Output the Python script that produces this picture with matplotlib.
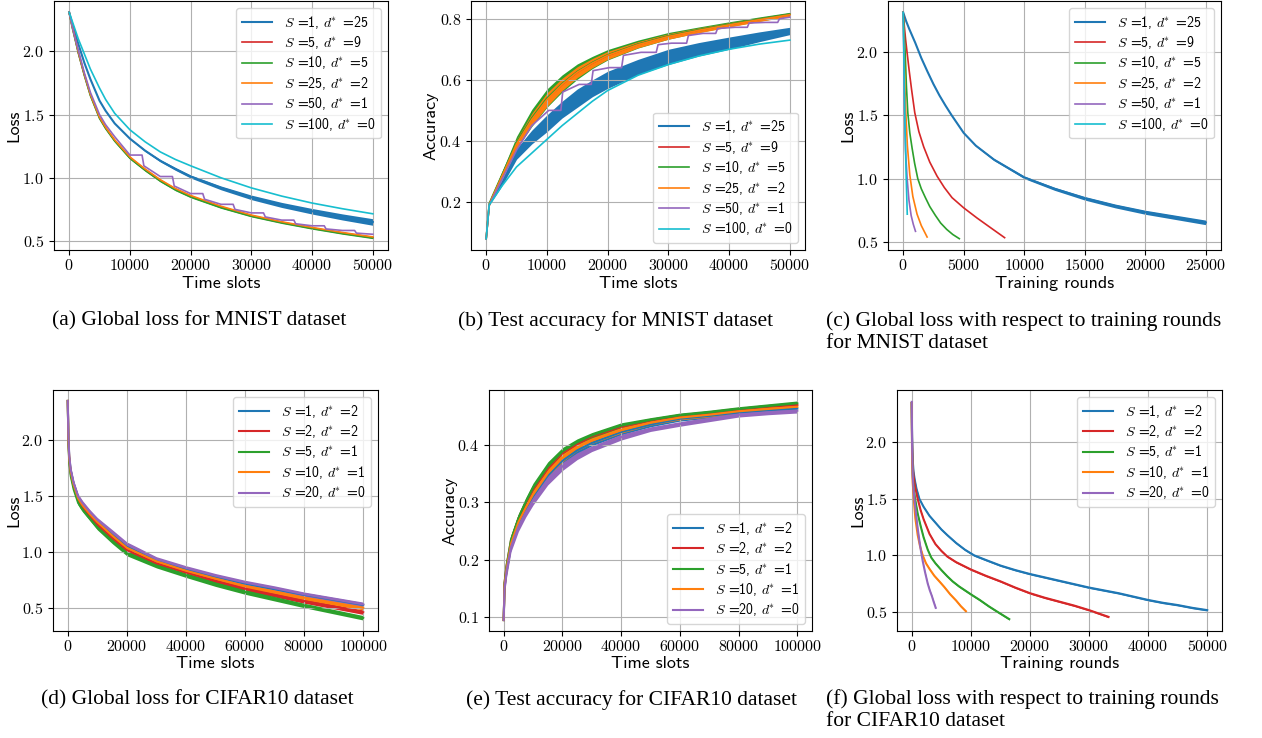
"""
Six-panel convergence figure: MNIST (top row) and CIFAR10 (bottom row)
loss / accuracy versus time slots and loss versus training rounds.
"""
import matplotlib
matplotlib.use("Agg")
import matplotlib.pyplot as plt
import matplotlib.ticker as mticker

plt.rcParams["font.family"] = "cmr10"
plt.rcParams["mathtext.fontset"] = "cm"
plt.rcParams["axes.formatter.use_mathtext"] = True
plt.rcParams["axes.unicode_minus"] = False

BLUE = "#1f77b4"
RED = "#d62728"
GREEN = "#2ca02c"
ORANGE = "#ff7f0e"
PURPLE = "#9467bd"
CYAN = "#17becf"

mnist_labels = [r"$S$ =1, $d^{\!\!*}$ =25", r"$S$ =5, $d^{\!\!*}$ =9", r"$S$ =10, $d^{\!\!*}$ =5",
                r"$S$ =25, $d^{\!\!*}$ =2", r"$S$ =50, $d^{\!\!*}$ =1", r"$S$ =100, $d^{\!\!*}$ =0"]
cifar_labels = [r"$S$ =1, $d^{\!\!*}$ =2", r"$S$ =2, $d^{\!\!*}$ =2", r"$S$ =5, $d^{\!\!*}$ =1",
                r"$S$ =10, $d^{\!\!*}$ =1", r"$S$ =20, $d^{\!\!*}$ =0"]

# ---------------- (a) MNIST loss vs time slots ----------------
a_slots = [0, 500, 1000, 1500, 2500, 3500, 5000, 6000, 7500, 10000, 12500, 15000,
           17500, 20000, 25000, 30000, 35000, 40000, 45000, 50000]
a_s1 = [2.31, 2.22, 2.14, 2.06, 1.91, 1.78, 1.61, 1.53, 1.43, 1.31, 1.215, 1.135,
        1.07, 1.01, 0.92, 0.845, 0.785, 0.735, 0.69, 0.65]
a_s1_spread = [0, 0, 0.001, 0.001, 0.002, 0.002, 0.003, 0.003, 0.004, 0.005, 0.007,
               0.009, 0.011, 0.012, 0.015, 0.018, 0.02, 0.022, 0.024, 0.026]
a_s5 = [2.31, 2.20, 2.10, 1.99, 1.815, 1.655, 1.475, 1.395, 1.295, 1.16, 1.065, 0.98,
        0.91, 0.855, 0.77, 0.70, 0.648, 0.603, 0.563, 0.528]
a_s10 = [2.31, 2.19, 2.09, 1.99, 1.81, 1.65, 1.47, 1.39, 1.29, 1.155, 1.06, 0.975,
         0.905, 0.85, 0.765, 0.697, 0.645, 0.60, 0.56, 0.525]
a_s10_spread = [0, 0, 0, 0, 0.002, 0.003, 0.005, 0.006, 0.007, 0.008, 0.008, 0.008,
                0.008, 0.008, 0.007, 0.007, 0.007, 0.007, 0.007, 0.007]
a_s25 = [2.31, 2.20, 2.10, 2.00, 1.82, 1.66, 1.48, 1.40, 1.30, 1.165, 1.07, 0.985,
         0.915, 0.86, 0.775, 0.705, 0.652, 0.607, 0.567, 0.532]
a_s100 = [2.31, 2.24, 2.17, 2.10, 1.98, 1.86, 1.71, 1.62, 1.51, 1.38, 1.285, 1.205,
          1.145, 1.095, 1.00, 0.92, 0.855, 0.80, 0.755, 0.715]
a_s50_slots = [0, 500, 1000, 1500, 2500, 3500, 5000, 6000, 7500, 10000, 12000, 12300,
               15000, 17000, 17300, 20000, 22000, 22300, 25000, 27000, 27300, 30000,
               32000, 32300, 35000, 37000, 37300, 40000, 42000, 42300, 45000, 47000,
               47300, 50000]
a_s50 = [2.31, 2.20, 2.10, 2.01, 1.83, 1.675, 1.50, 1.42, 1.325, 1.18, 1.18, 1.095,
         1.01, 1.01, 0.935, 0.875, 0.875, 0.83, 0.79, 0.79, 0.75, 0.722, 0.722, 0.69,
         0.665, 0.665, 0.636, 0.62, 0.62, 0.595, 0.583, 0.583, 0.562, 0.553]

# ---------------- (b) MNIST accuracy vs time slots ----------------
b_slots = [0, 500, 1000, 2500, 5000, 7500, 10000, 12500, 15000, 17500, 20000, 25000,
           30000, 35000, 40000, 45000, 50000]
b_s1_lo = [0.08, 0.19, 0.205, 0.25, 0.34, 0.39, 0.43, 0.475, 0.51, 0.545, 0.572, 0.617,
           0.65, 0.678, 0.70, 0.725, 0.748]
b_s1_hi = [0.08, 0.20, 0.215, 0.27, 0.375, 0.435, 0.485, 0.53, 0.57, 0.60, 0.628, 0.667,
           0.70, 0.722, 0.74, 0.757, 0.772]
b_s5 = [0.08, 0.19, 0.215, 0.282, 0.392, 0.472, 0.537, 0.585, 0.625, 0.655, 0.68, 0.716,
        0.743, 0.763, 0.781, 0.798, 0.814]
b_s10 = [0.08, 0.195, 0.218, 0.285, 0.395, 0.475, 0.54, 0.588, 0.627, 0.657, 0.682,
         0.717, 0.744, 0.764, 0.782, 0.799, 0.815]
b_s10_spread = [0, 0.005, 0.005, 0.01, 0.02, 0.028, 0.03, 0.028, 0.025, 0.02, 0.017,
                0.013, 0.011, 0.009, 0.008, 0.007, 0.006]
b_s25 = [0.08, 0.19, 0.215, 0.28, 0.39, 0.47, 0.535, 0.585, 0.625, 0.655, 0.68, 0.715,
         0.742, 0.762, 0.78, 0.797, 0.813]
b_s25_spread = [0, 0.004, 0.004, 0.008, 0.015, 0.02, 0.022, 0.02, 0.018, 0.015, 0.013,
                0.01, 0.009, 0.008, 0.007, 0.006, 0.005]
b_s100 = [0.08, 0.19, 0.205, 0.25, 0.315, 0.36, 0.405, 0.45, 0.49, 0.53, 0.565, 0.615,
          0.65, 0.678, 0.70, 0.717, 0.73]
b_s50_slots = [0, 500, 1000, 2500, 5000, 7500, 10300, 12300, 12600, 15300, 17300, 17600,
               20300, 22300, 22600, 25500, 28000, 28300, 30500, 33000, 33300, 35700,
               37800, 38100, 41000, 43000, 43300, 46000, 48000, 48300, 50000]
b_s50 = [0.08, 0.19, 0.21, 0.27, 0.37, 0.45, 0.50, 0.50, 0.56, 0.585, 0.585, 0.63,
         0.64, 0.64, 0.68, 0.69, 0.69, 0.715, 0.72, 0.72, 0.745, 0.752, 0.752, 0.768,
         0.772, 0.772, 0.786, 0.788, 0.788, 0.80, 0.805]

# ---------------- (c) MNIST loss vs training rounds ----------------
c_s1_rounds = [0, 250, 500, 1000, 1500, 2000, 2500, 3000, 3500, 4000, 5000, 6000, 7500,
               10000, 12500, 15000, 17500, 20000, 22500, 25000]
c_s1 = [2.31, 2.24, 2.18, 2.07, 1.95, 1.845, 1.745, 1.655, 1.575, 1.50, 1.36, 1.26,
        1.15, 1.01, 0.92, 0.845, 0.785, 0.735, 0.695, 0.655]
c_s1_spread = [0, 0, 0.001, 0.001, 0.002, 0.002, 0.003, 0.003, 0.004, 0.004, 0.005,
               0.006, 0.008, 0.01, 0.012, 0.014, 0.015, 0.016, 0.017, 0.018]
c_s5_rounds = [0, 100, 200, 330, 500, 700, 960, 1300, 1700, 2200, 2800, 3400, 4040,
               5000, 6100, 7200, 8380]
c_s5 = [2.31, 2.20, 2.10, 1.99, 1.85, 1.70, 1.52, 1.37, 1.25, 1.13, 1.02, 0.93, 0.85,
        0.77, 0.69, 0.615, 0.535]
c_s10_rounds = [0, 165, 270, 385, 550, 740, 950, 1209, 1500, 1840, 2200, 2665, 3100,
                3600, 4100, 4640]
c_s10 = [2.31, 2.0, 1.73, 1.52, 1.36, 1.24, 1.12, 1.0, 0.92, 0.85, 0.78, 0.71, 0.65,
         0.60, 0.56, 0.527]
c_s25_rounds = [0, 80, 140, 220, 350, 550, 800, 1150, 1500, 1980]
c_s25 = [2.31, 2.0, 1.75, 1.52, 1.26, 1.03, 0.86, 0.72, 0.63, 0.54]
c_s50_rounds = [0, 50, 110, 200, 330, 480, 660, 840, 1020]
c_s50 = [2.31, 2.0, 1.52, 1.22, 1.0, 0.83, 0.71, 0.64, 0.585]
c_s100_rounds = [0, 60, 137, 250, 340]
c_s100 = [2.31, 2.0, 1.5, 1.02, 0.72]

# ---------------- (d) CIFAR10 loss vs time slots ----------------
d_slots = [0, 200, 500, 1000, 2000, 3500, 5000, 7500, 10000, 15000, 20000, 30000,
           40000, 50000, 60000, 70000, 80000, 90000, 100000]
d_s1 = [2.35, 2.03, 1.85, 1.73, 1.61, 1.49, 1.43, 1.35, 1.28, 1.16, 1.05, 0.93, 0.85,
        0.78, 0.72, 0.67, 0.62, 0.575, 0.53]
d_s2 = [2.35, 2.0, 1.82, 1.70, 1.58, 1.46, 1.40, 1.32, 1.25, 1.13, 1.02, 0.90, 0.82,
        0.745, 0.675, 0.62, 0.565, 0.515, 0.465]
d_s5 = [2.35, 1.98, 1.80, 1.68, 1.56, 1.44, 1.38, 1.30, 1.22, 1.10, 0.99, 0.88, 0.795,
        0.715, 0.645, 0.585, 0.525, 0.47, 0.415]
d_s10 = [2.35, 2.02, 1.84, 1.72, 1.60, 1.48, 1.42, 1.34, 1.27, 1.15, 1.04, 0.92, 0.835,
         0.765, 0.70, 0.65, 0.595, 0.55, 0.505]
d_s20 = [2.35, 2.05, 1.86, 1.74, 1.62, 1.50, 1.44, 1.36, 1.29, 1.18, 1.07, 0.94, 0.86,
         0.79, 0.73, 0.68, 0.625, 0.58, 0.535]
d_spread = [0, 0.01, 0.015, 0.02, 0.02, 0.02, 0.02, 0.02, 0.02, 0.022, 0.022, 0.02,
            0.02, 0.02, 0.02, 0.02, 0.02, 0.02, 0.02]

# ---------------- (e) CIFAR10 accuracy vs time slots ----------------
e_slots = [0, 300, 1000, 2500, 5000, 7500, 10000, 15000, 20000, 25000, 30000, 40000,
           50000, 60000, 70000, 80000, 90000, 100000]
e_s1 = [0.095, 0.155, 0.185, 0.226, 0.262, 0.287, 0.31, 0.346, 0.372, 0.39, 0.403,
        0.422, 0.435, 0.445, 0.45, 0.456, 0.46, 0.463]
e_s2 = [0.095, 0.16, 0.19, 0.234, 0.271, 0.298, 0.322, 0.358, 0.385, 0.401, 0.414,
        0.431, 0.442, 0.45, 0.455, 0.461, 0.466, 0.469]
e_s5 = [0.095, 0.16, 0.19, 0.235, 0.272, 0.30, 0.325, 0.362, 0.388, 0.404, 0.416,
        0.433, 0.443, 0.451, 0.456, 0.462, 0.467, 0.472]
e_s10 = [0.095, 0.155, 0.185, 0.228, 0.265, 0.29, 0.313, 0.35, 0.377, 0.395, 0.407,
         0.425, 0.438, 0.447, 0.452, 0.458, 0.462, 0.466]
e_s20 = [0.095, 0.15, 0.18, 0.222, 0.257, 0.282, 0.303, 0.338, 0.362, 0.38, 0.393,
         0.413, 0.427, 0.436, 0.444, 0.452, 0.456, 0.459]
e_spread = [0, 0.01, 0.01, 0.008, 0.008, 0.008, 0.008, 0.008, 0.007, 0.006, 0.005,
            0.005, 0.004, 0.004, 0.004, 0.004, 0.004, 0.004]

# ---------------- (f) CIFAR10 loss vs training rounds ----------------
f_s1_rounds = [0, 50, 150, 300, 500, 800, 1290, 2000, 3000, 4000, 5000, 6000, 7500,
               9000, 10560, 12500, 15000, 17500, 20000, 22500, 25000, 27500, 30000,
               32500, 35000, 37500, 40000, 42500, 45000, 47500, 50000]
f_s1 = [2.35, 2.05, 1.85, 1.74, 1.67, 1.59, 1.50, 1.43, 1.35, 1.29, 1.23, 1.18, 1.11,
        1.05, 1.0, 0.96, 0.91, 0.87, 0.835, 0.805, 0.775, 0.745, 0.715, 0.69, 0.665,
        0.635, 0.605, 0.58, 0.56, 0.535, 0.515]
f_s2_rounds = [0, 50, 150, 300, 600, 1000, 1500, 2000, 3000, 4000, 5000, 6000, 7500,
               10000, 12500, 15000, 17500, 20000, 22500, 25000, 27500, 30000, 33300]
f_s2 = [2.35, 2.0, 1.80, 1.70, 1.60, 1.50, 1.40, 1.32, 1.19, 1.10, 1.04, 0.99, 0.94,
        0.875, 0.82, 0.77, 0.715, 0.665, 0.625, 0.59, 0.555, 0.515, 0.455]
f_s5_rounds = [0, 50, 150, 300, 560, 1000, 1500, 2000, 2700, 3300, 4000, 5000, 6000,
               6900, 8000, 9000, 10000, 11500, 13000, 14500, 16500]
f_s5 = [2.35, 1.95, 1.72, 1.60, 1.50, 1.37, 1.26, 1.16, 1.05, 0.98, 0.93, 0.87, 0.815,
        0.77, 0.725, 0.69, 0.655, 0.605, 0.55, 0.50, 0.435]
f_s10_rounds = [0, 50, 150, 340, 600, 1000, 1400, 1850, 2400, 3000, 3800, 4660, 5500,
                6500, 7500, 8300, 9160]
f_s10 = [2.35, 1.85, 1.65, 1.50, 1.33, 1.18, 1.08, 1.0, 0.93, 0.88, 0.82, 0.77, 0.72,
         0.655, 0.60, 0.55, 0.505]
f_s20_rounds = [0, 60, 170, 300, 450, 730, 1000, 1290, 1550, 1850, 2250, 2700, 3050,
                3400, 3700, 4050]
f_s20 = [2.36, 1.95, 1.70, 1.58, 1.50, 1.36, 1.24, 1.13, 1.04, 0.95, 0.85, 0.75, 0.69,
         0.64, 0.59, 0.535]
f_spread = 0.008

W, H = 1262, 738
fig = plt.figure(figsize=(W / 100, H / 100), dpi=100)


def make_ax(left, top, right, bottom):
    ax = fig.add_axes([left / W, 1 - bottom / H, (right - left) / W, (bottom - top) / H])
    ax.grid(True, color="#b0b0b0", linewidth=0.8)
    ax.tick_params(labelsize=11.5)
    ax.tick_params(axis="x", pad=2)
    return ax


def band(ax, x, mid, spread, color, label=None, lw=1.2):
    lo = [m - s for m, s in zip(mid, spread)]
    hi = [m + s for m, s in zip(mid, spread)]
    ax.fill_between(x, lo, hi, color=color, linewidth=0)
    ax.plot(x, mid, color=color, lw=lw, label=label)


def finish(ax, xlabel, ylabel, loc):
    ax.set_xlabel(xlabel, family="cmss10", fontsize=13, va="center")
    ax.set_ylabel(ylabel, family="cmss10", fontsize=13, va="center")
    ax.xaxis.set_label_coords(0.5, -0.135)
    ax.yaxis.set_label_coords(-0.12, 0.5)
    ax.legend(loc=loc, prop={"family": "cmss10", "size": 10}, labelspacing=0.25,
              handlelength=2.2)


# (a)
ax = make_ax(54, 1, 388, 250)
band(ax, a_slots, a_s1, a_s1_spread, BLUE, mnist_labels[0], lw=1.5)
ax.plot(a_slots, a_s5, color=RED, lw=1.2, label=mnist_labels[1])
band(ax, a_slots, a_s10, a_s10_spread, GREEN, mnist_labels[2], lw=1.2)
ax.plot(a_slots, a_s25, color=ORANGE, lw=1.2, label=mnist_labels[3])
ax.plot(a_s50_slots, a_s50, color=PURPLE, lw=1.2, label=mnist_labels[4])
ax.plot(a_slots, a_s100, color=CYAN, lw=1.2, label=mnist_labels[5])
ax.yaxis.set_major_locator(mticker.MultipleLocator(0.5))
finish(ax, "Time slots", "Loss", "upper right")

# (b)
ax = make_ax(471, 1, 805, 250)
ax.fill_between(b_slots, b_s1_lo, b_s1_hi, color=BLUE, linewidth=0)
ax.plot([], [], color=BLUE, lw=1.5, label=mnist_labels[0])
ax.plot(b_slots, b_s5, color=RED, lw=1.2, label=mnist_labels[1])
band(ax, b_slots, b_s10, b_s10_spread, GREEN, mnist_labels[2])
band(ax, b_slots, b_s25, b_s25_spread, ORANGE, mnist_labels[3])
ax.plot(b_s50_slots, b_s50, color=PURPLE, lw=1.2, label=mnist_labels[4])
ax.plot(b_slots, b_s100, color=CYAN, lw=1.2, label=mnist_labels[5])
finish(ax, "Time slots", "Accuracy", "lower right")

# (c)
ax = make_ax(888, 1, 1221, 250)
band(ax, c_s1_rounds, c_s1, c_s1_spread, BLUE, mnist_labels[0], lw=1.5)
ax.plot(c_s5_rounds, c_s5, color=RED, lw=1.2, label=mnist_labels[1])
ax.plot(c_s10_rounds, c_s10, color=GREEN, lw=1.2, label=mnist_labels[2])
ax.plot(c_s25_rounds, c_s25, color=ORANGE, lw=1.2, label=mnist_labels[3])
ax.plot(c_s50_rounds, c_s50, color=PURPLE, lw=1.2, label=mnist_labels[4])
ax.plot(c_s100_rounds, c_s100, color=CYAN, lw=1.2, label=mnist_labels[5])
ax.yaxis.set_major_locator(mticker.MultipleLocator(0.5))
finish(ax, "Training rounds", "Loss", "upper right")

# (d)
ax = make_ax(53, 390, 378, 631)
for vals, col, lab in zip([d_s1, d_s2, d_s5, d_s10, d_s20],
                          [BLUE, RED, GREEN, ORANGE, PURPLE], cifar_labels):
    band(ax, d_slots, vals, d_spread, col, lab, lw=1.5)
ax.yaxis.set_major_locator(mticker.MultipleLocator(0.5))
finish(ax, "Time slots", "Loss", "upper right")

# (e)
ax = make_ax(489, 390, 812, 631)
for vals, col, lab in zip([e_s1, e_s2, e_s5, e_s10, e_s20],
                          [BLUE, RED, GREEN, ORANGE, PURPLE], cifar_labels):
    band(ax, e_slots, vals, e_spread, col, lab, lw=1.5)
finish(ax, "Time slots", "Accuracy", "lower right")

# (f)
ax = make_ax(897, 390, 1222, 631)
for xs, vals, col, lab in zip([f_s1_rounds, f_s2_rounds, f_s5_rounds, f_s10_rounds, f_s20_rounds],
                              [f_s1, f_s2, f_s5, f_s10, f_s20],
                              [BLUE, RED, GREEN, ORANGE, PURPLE], cifar_labels):
    band(ax, xs, vals, [f_spread] * len(vals), col, lab, lw=1.5)
ax.yaxis.set_major_locator(mticker.MultipleLocator(0.5))
finish(ax, "Training rounds", "Loss", "upper right")

# captions
cap = dict(family="Liberation Serif", fontsize=15.5, va="center")
fig.text(199 / W, 1 - 321 / H, "(a) Global loss for MNIST dataset", ha="center", **cap)
fig.text(616 / W, 1 - 321 / H, "(b) Test accuracy for MNIST dataset", ha="center", **cap)
fig.text(826 / W, 1 - 321 / H, "(c) Global loss with respect to training rounds", ha="left", **cap)
fig.text(826 / W, 1 - 344 / H, "for MNIST dataset", ha="left", **cap)
fig.text(197 / W, 1 - 700 / H, "(d) Global loss for CIFAR10 dataset", ha="center", **cap)
fig.text(632 / W, 1 - 700 / H, "(e) Test accuracy for CIFAR10 dataset", ha="center", **cap)
fig.text(826 / W, 1 - 699 / H, "(f) Global loss with respect to training rounds", ha="left", **cap)
fig.text(826 / W, 1 - 721 / H, "for CIFAR10 dataset", ha="left", **cap)

fig.savefig("out.png", dpi=100, facecolor="white")
